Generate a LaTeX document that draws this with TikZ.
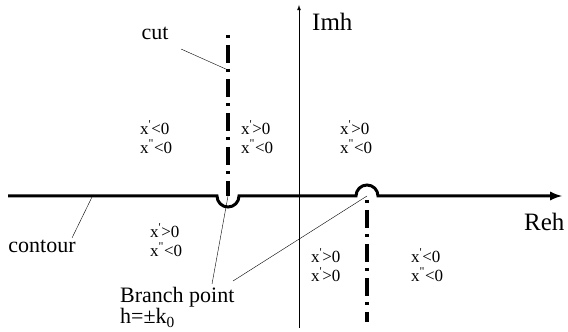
\documentclass[tikz,border=0pt]{standalone}
\usepackage{fontspec}
\setmainfont{Liberation Serif}
\begin{document}
\begin{tikzpicture}[x=1pt, y=1pt, >=latex,
    cutline/.style={line width=4pt, dash pattern=on 3pt off 7pt on 18pt off 6pt},
    lbl/.style={font=\fontsize{22}{21}\selectfont, inner sep=0pt},
    sgn/.style={font=\fontsize{17}{19}\selectfont, align=left, anchor=west, inner sep=0pt}]

    \useasboundingbox (0,0) rectangle (568,332);

    % 1. Truc ao
    \draw[->, line width=0.8pt] (299,4) -- (299,327);
    \node[lbl, font=\fontsize{25}{27}\selectfont, anchor=west] (imh) at (312,310) {Imh};

    % 2. Hai nhat cat (cut)
    \coordinate (bpl) at (228,136);
    \coordinate (bpr) at (367,136);
    \draw[cutline] (228,297) -- (bpl);
    \draw[cutline] (367,132) -- (367,10);

    % 3. Duong contour di vong qua cac diem re nhanh
    \draw[->, line width=3pt] (8,136) -- (217,136)
        arc[start angle=180, end angle=360, radius=11] -- (356,136)
        arc[start angle=180, end angle=0, radius=11] -- (562,136);
    \node[lbl, font=\fontsize{25}{27}\selectfont, anchor=west] (reh) at (524,110) {Reh};

    % 4. Nhan va duong dan
    \node[lbl] (cut) at (155,299) {cut};
    \coordinate (cutpt) at (228,262);
    \draw[thin] (181,283) -- (cutpt);

    \node[lbl] (contour) at (42,86) {contour};
    \draw[thin] (72,94) -- (92,135);

    \node[lbl, align=left, anchor=base west] (branch) at (120,8)
        {Branch point\\h=±k\textsubscript{0}};
    \draw[thin] (212,48) -- (bpl);
    \draw[thin] (233,51) -- (bpr);

    % 5. Dau cua x' va x''
    \newcommand{\xp}{x\textsuperscript{\textquotesingle}}
    \newcommand{\xpp}{x\textsuperscript{\textquotedbl}}
    \node[sgn] (s1) at (140,195) {\xp<0\\\xpp<0};
    \node[sgn] (s2) at (241,195) {\xp>0\\\xpp<0};
    \node[sgn] (s3) at (340,195) {\xp>0\\\xpp<0};
    \node[sgn] (s4) at (150,92) {\xp>0\\\xpp<0};
    \node[sgn] (s5) at (311,67) {\xp>0\\\xp>0};
    \node[sgn] (s6) at (411,67) {\xp<0\\\xpp<0};

\end{tikzpicture}
\end{document}
